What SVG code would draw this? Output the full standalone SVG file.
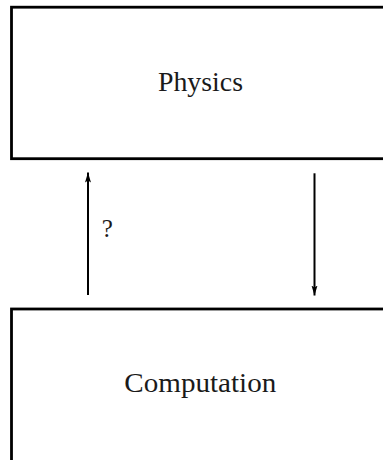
<svg xmlns="http://www.w3.org/2000/svg" width="383" height="460" viewBox="0 0 383 460">
<style>
.box{fill:none;stroke:#000;stroke-width:2.8}
.lbl{font-family:"Liberation Serif","Times New Roman",serif;font-size:27px;fill:#1a1a1a;text-anchor:middle}
.edge{stroke:#000;stroke-width:2;fill:none}
</style>
<defs>
<marker id="ah" viewBox="0 0 10 6" refX="10" refY="3" markerWidth="10" markerHeight="6.5" markerUnits="userSpaceOnUse" orient="auto">
<path d="M0,0 L10,3 L0,6 L2,3 Z" fill="#000"/>
</marker>
</defs>
<rect x="0" y="0" width="383" height="460" fill="#fff"/>
<g id="physics">
<rect class="box" x="11.5" y="7.2" width="400" height="151.5"/>
<text class="lbl" x="200.5" y="90.7" textLength="85" lengthAdjust="spacingAndGlyphs">Physics</text>
</g>
<g id="computation">
<rect class="box" x="11.5" y="309" width="400" height="200"/>
<text class="lbl" x="200.3" y="391.7" textLength="152" lengthAdjust="spacingAndGlyphs">Computation</text>
</g>
<g id="connectors">
<line class="edge" x1="88" y1="295" x2="88" y2="172.5" marker-end="url(#ah)"/>
<line class="edge" x1="314.5" y1="173.3" x2="314.5" y2="295.5" marker-end="url(#ah)"/>
<text class="lbl" x="107.3" y="237" style="font-size:25px">?</text>
</g>
</svg>
